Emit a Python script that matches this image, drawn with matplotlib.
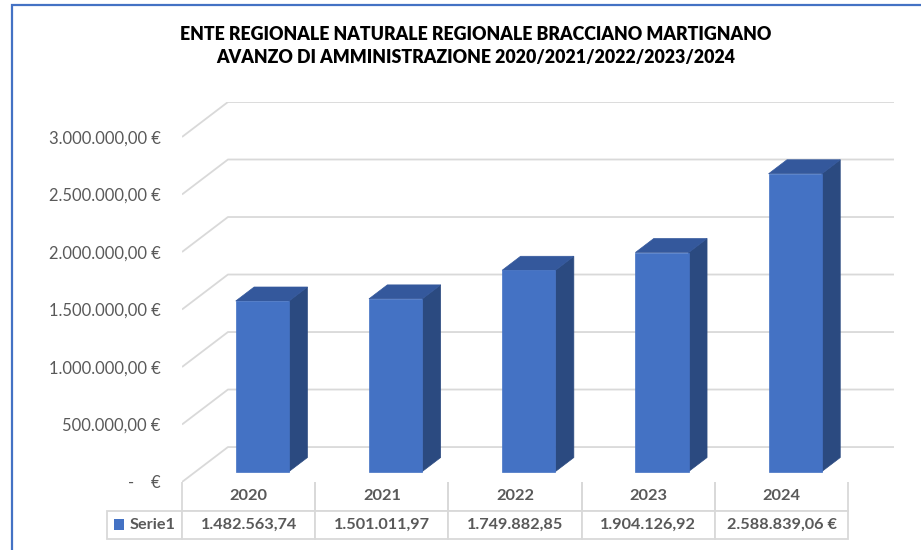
import numpy as np
import matplotlib
matplotlib.use("Agg")
import matplotlib.pyplot as plt
from matplotlib.patches import Polygon, Rectangle

plt.rcParams['font.family'] = ['Lato', 'DejaVu Sans']

# data
years = ['2020', '2021', '2022', '2023', '2024']
avanzo = [1482563.74, 1501011.97, 1749882.85, 1904126.92, 2588839.06]
table_labels = ['1.482.563,74', '1.501.011,97', '1.749.882,85', '1.904.126,92', '2.588.839,06 €']
yticks = [0, 500000, 1000000, 1500000, 2000000, 2500000, 3000000]
ytick_labels = ['-    €', '500.000,00 €', '1.000.000,00 €', '1.500.000,00 €',
                '2.000.000,00 €', '2.500.000,00 €', '3.000.000,00 €']
title1 = 'ENTE REGIONALE NATURALE REGIONALE BRACCIANO MARTIGNANO'
title2 = 'AVANZO DI AMMINISTRAZIONE 2020/2021/2022/2023/2024'

FRONT = '#4472C4'
TOP = '#34589C'
SIDE = '#2B4A80'
GRID = '#D9D9D9'
TXT = '#595959'

# oblique depth offset (full floor depth) in data units
DX = 0.345
DY = 304000
W = 0.4          # bar width (gap 150%)
D0, D1 = 0.3, 0.7  # bar depth span

fig = plt.figure(figsize=(9.21, 5.5), dpi=100)
W_PX, H_PX = 921, 550
ax = fig.add_axes([182 / W_PX, (H_PX - 482) / H_PX, (894 - 182) / W_PX, (482 - 102) / H_PX])
ax.set_xlim(-0.5, len(years) - 0.5 + DX)
ax.set_ylim(0, yticks[-1] + DY)

# walls / gridlines
for v in yticks:
    ax.plot([-0.5, -0.5 + DX, len(years) - 0.5 + DX], [v, v + DY, v + DY],
            color=GRID, lw=1.3, zorder=1, solid_capstyle='butt')

# 3d columns
for i, v in enumerate(avanzo):
    x0 = i - W / 2 + D0 * DX
    x1 = i + W / 2 + D0 * DX
    yb = D0 * DY
    yt = v + D0 * DY
    ddx = (D1 - D0) * DX
    ddy = (D1 - D0) * DY
    ax.add_patch(Polygon([(x1, yb), (x1 + ddx, yb + ddy), (x1 + ddx, yt + ddy), (x1, yt)],
                         closed=True, facecolor=SIDE, edgecolor=SIDE, lw=0.5, zorder=3))
    ax.add_patch(Polygon([(x0, yt), (x1, yt), (x1 + ddx, yt + ddy), (x0 + ddx, yt + ddy)],
                         closed=True, facecolor=TOP, edgecolor=TOP, lw=0.5, zorder=3))
    ax.add_patch(Rectangle((x0, yb), x1 - x0, yt - yb, facecolor=FRONT,
                           edgecolor=FRONT, lw=0.5, zorder=4))

ax.set_yticks(yticks)
ax.set_yticklabels(ytick_labels)
ax.tick_params(axis='y', length=0, pad=15.5, labelsize=11.9, labelcolor=TXT)
ax.set_xticks([])
for s in ax.spines.values():
    s.set_visible(False)
ax.patch.set_alpha(0)

# data table (sized to the axes so no rescaling happens)
tbl_w = len(years) / (len(years) + DX)
tbl_h = 57 / 380
tbl = ax.table(cellText=[table_labels], colLabels=years,
               colWidths=[tbl_w / len(years)] * len(years), cellLoc='center',
               bbox=[0, -tbl_h, tbl_w, tbl_h])
tbl.add_cell(1, -1, width=75 / 712, height=tbl[1, 0].get_height(),
             text='Serie1', loc='right')
tbl.auto_set_font_size(False)
for (r, c), cell in tbl.get_celld().items():
    cell.set_edgecolor(GRID)
    cell.set_linewidth(1.3)
    t = cell.get_text()
    t.set_color(TXT)
    t.set_fontweight('bold')
    t.set_fontsize(11.7)
    if r == 0:
        cell.visible_edges = 'BLR'
        t.set_fontsize(11.8)
tbl[1, -1].PAD = 0.09

# legend key in table
ax.add_patch(Rectangle((-0.0955, -0.126), 0.014, 0.029, transform=ax.transAxes,
                       facecolor=FRONT, edgecolor='none', clip_on=False))

# title
fig.text(476 / W_PX, 1 - 34 / H_PX, title1, ha='center', va='center',
         fontsize=12.8, fontweight='heavy', color='black')
fig.text(476 / W_PX, 1 - 58 / H_PX, title2, ha='center', va='center',
         fontsize=12.8, fontweight='heavy', color='black')

# chart area border
fig.patches.append(Rectangle((12 / W_PX, -0.2), 1.2, 1.2 - 5 / H_PX, transform=fig.transFigure,
                             facecolor='none', edgecolor=FRONT, lw=1.6, figure=fig))

fig.savefig('out.png', dpi=100)
